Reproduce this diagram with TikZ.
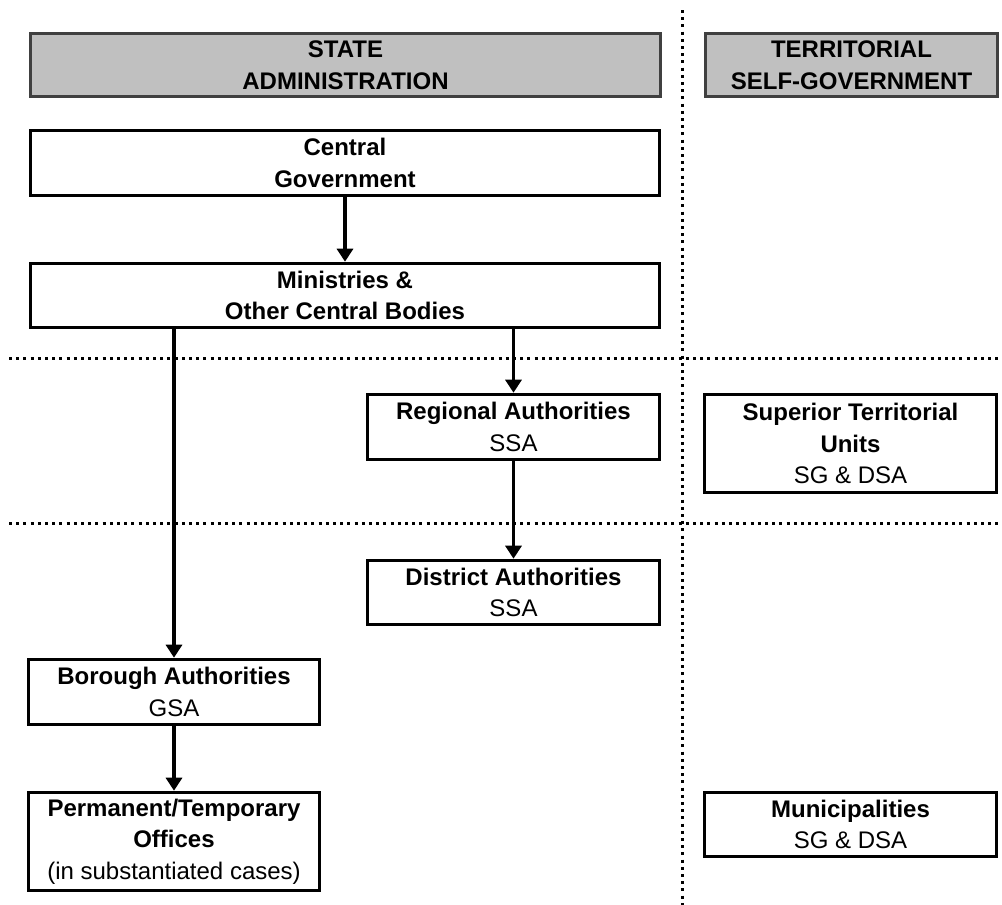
\documentclass[tikz,border=0pt]{standalone}
\usepackage{fontspec}
\setmainfont{Liberation Sans}
\usetikzlibrary{arrows.meta}
\definecolor{hdrgray}{HTML}{C0C0C0}
\definecolor{hdredge}{HTML}{404040}
\tikzset{
  box/.style={draw=black, line width=3.6pt, fill=white, inner sep=0pt, align=center,
    font=\fontsize{24}{31.5}\selectfont},
  header/.style={draw=hdredge, line width=2.2pt, fill=hdrgray, inner sep=0pt, align=center,
    font=\fontsize{24}{31.5}\selectfont\bfseries},
  arr/.style={line width=3.6pt, -{Triangle[length=13pt, width=16pt]}},
  sep/.style={line width=3pt, dash pattern=on 3pt off 4.2pt},
}
\begin{document}
\begin{tikzpicture}[x=1pt, y=-1pt]
\useasboundingbox (0,0) rectangle (1002,905);

% column headers
\node[header, minimum width=630pt, minimum height=63pt] (hs) at (345.5,65) {STATE\\ADMINISTRATION};
\node[header, minimum width=292pt, minimum height=63pt] (ht) at (851.5,65) {TERRITORIAL\\SELF-GOVERNMENT};

% level separators
\draw[sep] (682,10) -- (682,905);
\draw[sep] (9,358) -- (1002,358);
\draw[sep] (9,523) -- (1002,523);

% state administration
\node[box, minimum width=629pt, minimum height=65pt] (cg) at (345,163) {\textbf{Central}\\\textbf{Government}};
\node[box, minimum width=629pt, minimum height=64pt] (min) at (345,295.5) {\textbf{Ministries \&}\\\textbf{Other Central Bodies}};
\node[box, minimum width=292pt, minimum height=65pt] (reg) at (513.5,427) {\textbf{Regional Authorities}\\SSA};
\node[box, minimum width=292pt, minimum height=64pt] (dist) at (513.5,592.5) {\textbf{District Authorities}\\SSA};
\node[box, minimum width=291pt, minimum height=65pt] (bor) at (174,692) {\textbf{Borough Authorities}\\GSA};
\node[box, minimum width=291pt, minimum height=98pt] (perm) at (174,841.5) {\textbf{Permanent/Temporary}\\\textbf{Offices}\\(in substantiated cases)};

% territorial self-government
\node[box, minimum width=292pt, minimum height=98pt] (sup) at (850.5,443.5) {\textbf{Superior Territorial}\\\textbf{Units}\\SG \& DSA};
\node[box, minimum width=292pt, minimum height=64pt] (mun) at (850.5,824.5) {\textbf{Municipalities}\\SG \& DSA};

% subordination arrows
\draw[arr] (cg.south) -- (min.north);
\draw[arr] (min.south -| bor.north) -- (bor.north);
\draw[arr] (min.south -| reg.north) -- (reg.north);
\draw[arr] (reg.south) -- (dist.north);
\draw[arr] (bor.south) -- (perm.north);
\end{tikzpicture}
\end{document}
